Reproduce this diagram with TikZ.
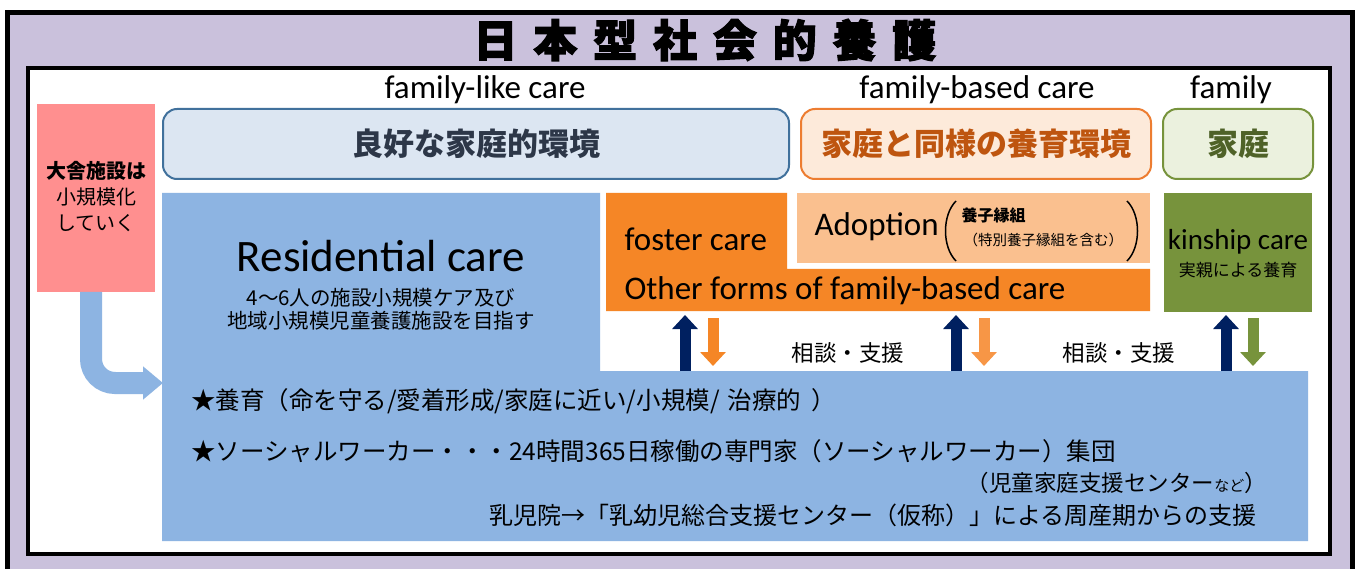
\documentclass[tikz,border=0pt]{standalone}
\usepackage{fontspec}
\setmainfont{Carlito}
\newfontfamily\jp{Noto Sans CJK JP}
\newfontfamily\jptitle[LetterSpace=36,BoldFeatures={FakeBold=2.5}]{Noto Sans CJK JP}
\usetikzlibrary{arrows.meta}
\definecolor{purp}{RGB}{202,193,220}
\definecolor{pinkbox}{RGB}{255,143,143}
\definecolor{resblue}{RGB}{141,180,226}
\definecolor{lbfill}{RGB}{220,230,242}
\definecolor{lbdraw}{RGB}{65,113,156}
\definecolor{lbtext}{RGB}{45,55,72}
\definecolor{pfill}{RGB}{253,234,218}
\definecolor{pdraw}{RGB}{237,125,49}
\definecolor{ptext}{RGB}{190,85,15}
\definecolor{gfill}{RGB}{235,241,222}
\definecolor{gdraw}{RGB}{119,147,60}
\definecolor{gtext}{RGB}{79,98,40}
\definecolor{orng}{RGB}{245,134,38}
\definecolor{orng2}{RGB}{247,150,70}
\definecolor{adopt}{RGB}{250,192,143}
\definecolor{kin}{RGB}{119,147,60}
\definecolor{navy}{RGB}{0,32,96}
\tikzset{
  fs/.style={font=\fontsize{#1}{#1}\selectfont},
  box/.style={inner sep=0pt,outer sep=0pt,anchor=north west},
  head/.style={rounded corners=14pt,line width=2pt,inner sep=0pt,anchor=north west,minimum height=70pt},
  updown/.style={line width=11pt,-{Triangle[width=25pt,length=14pt]}},
  htext/.style={font=\jp\bfseries\fontsize{31}{31}\selectfont},
}
\begin{document}
\begin{tikzpicture}[x=1pt,y=-1pt]
\useasboundingbox (0,0) rectangle (1365,569);
\clip (0,0) rectangle (1365,569);
% outer frame
\draw[line width=5pt,fill=purp] (7.5,12.5) rectangle (1352,600);
% inner frame
\draw[line width=3.5pt,fill=white] (28,68) rectangle (1330,554);
% title
\node[font=\jptitle\bfseries\fontsize{44}{44}\selectfont] (title) at (705,40) {日本型社会的養護};
% column labels
\node[fs=33] (lab1) at (485,90) {family-like care};
\node[fs=33] (lab2) at (977,90) {family-based care};
\node[fs=33] (lab3) at (1231,90) {family};
% header boxes
\node[head,draw=lbdraw,fill=lbfill,minimum width=626pt] (h1) at (162,108) {};
\node[htext,text=lbtext] at (h1.center) {良好な家庭的環境};
\node[head,draw=pdraw,fill=pfill,minimum width=350pt] (h2) at (800,108) {};
\node[htext,text=ptext] at (h2.center) {家庭と同様の養育環境};
\node[head,draw=gdraw,fill=gfill,minimum width=150pt] (h3) at (1162,108) {};
\node[htext,text=gtext] at (h3.center) {家庭};
% pink box
\node[box,fill=pinkbox,minimum width=118pt,minimum height=188pt] (pink) at (37,104) {};
\node[font=\jp\fontsize{20}{26}\selectfont,align=center] at (96,197)
  {{\bfseries 大舎施設は}\\小規模化\\していく};
% residential area
\fill[resblue] (162,193) -- (600,193) -- (600,371) -- (1308,371) -- (1308,541) -- (162,541) -- cycle;
\coordinate (res) at (381,256);
\node[fs=45] (restitle) at (res) {Residential care};
\node[font=\jp\fontsize{20.5}{23}\selectfont,align=center] at (381,309)
  {4～6人の施設小規模ケア及び\\地域小規模児童養護施設を目指す};
% arrow from pink to residential
\coordinate (pa) at (91,292);
\coordinate (pb) at (91,383);
\coordinate (pc) at (163,383);
\draw[resblue,line width=22pt,rounded corners=24pt,-{Triangle[width=32pt,length=20pt]}] (pa) -- (pb) -- (pc);
% foster / other forms
\fill[orng] (606,193) -- (787,193) -- (787,269) -- (1150,269) -- (1150,311) -- (606,311) -- cycle;
\node[fs=33,anchor=west] (foster) at (621,239) {foster care};
\node[fs=33,anchor=west] (other) at (621,291) {Other forms of family-based care};
% adoption
\node[box,fill=adopt,minimum width=353pt,minimum height=70pt] (adopt) at (797,193) {};
\node[fs=33,anchor=west] (adtext) at (811,227) {Adoption};
\draw[line width=1.5pt] (956,201) .. controls (942,215) and (942,247) .. (956,261);
\draw[line width=1.5pt] (1127,201) .. controls (1141,215) and (1141,247) .. (1127,261);
\node[font=\jp\bfseries\fontsize{16}{16}\selectfont,anchor=west] at (958,215) {養子縁組};
\node[font=\jp\fontsize{14.5}{14.5}\selectfont,anchor=west] at (960,240) {（特別養子縁組を含む）};
% kinship
\node[box,fill=kin,minimum width=148pt,minimum height=119pt] (kin) at (1164,193) {};
\node[fs=29] at (1238,242) {kinship care};
\node[font=\jp\fontsize{17}{17}\selectfont] at (1238,270) {実親による養育};
% up/down arrows
\coordinate (u1a) at (685,371); \coordinate (u1b) at (685,315);
\coordinate (d1a) at (713,318); \coordinate (d1b) at (713,366);
\coordinate (u2a) at (956,371); \coordinate (u2b) at (956,315);
\coordinate (d2a) at (984,318); \coordinate (d2b) at (984,366);
\coordinate (u3a) at (1226,371); \coordinate (u3b) at (1226,315);
\coordinate (d3a) at (1253,318); \coordinate (d3b) at (1253,366);
\draw[updown,navy] (u1a) -- (u1b);
\draw[updown,orng] (d1a) -- (d1b);
\draw[updown,navy] (u2a) -- (u2b);
\draw[updown,orng2] (d2a) -- (d2b);
\draw[updown,navy] (u3a) -- (u3b);
\draw[updown,kin] (d3a) -- (d3b);
\node[font=\jp\fontsize{22.5}{22}\selectfont] (sd1) at (848,353) {相談・支援};
\node[font=\jp\fontsize{22.5}{22}\selectfont] (sd2) at (1119,353) {相談・支援};
% bottom text
\node[font=\jp\fontsize{24.5}{24}\selectfont,anchor=west,inner sep=0pt] (l1) at (191,401) {★養育（命を守る/愛着形成/家庭に近い/小規模/\hspace{8pt}治療的\hspace{10pt}）};
\node[font=\jp\fontsize{24.5}{24}\selectfont,anchor=west,inner sep=0pt] (l2) at (191,451) {★ソーシャルワーカー・・・24時間365日稼働の専門家（ソーシャルワーカー）集団};
\node[font=\jp\fontsize{22.5}{23}\selectfont,anchor=east,inner sep=0pt] (l3) at (1267,483) {（児童家庭支援センター{\fontsize{15}{15}\selectfont など}）};
\node[font=\jp\fontsize{24}{24}\selectfont,anchor=east,inner sep=0pt] (l4) at (1257,515) {乳児院→「乳幼児総合支援センター（仮称）」による周産期からの支援};
\end{tikzpicture}
\end{document}
